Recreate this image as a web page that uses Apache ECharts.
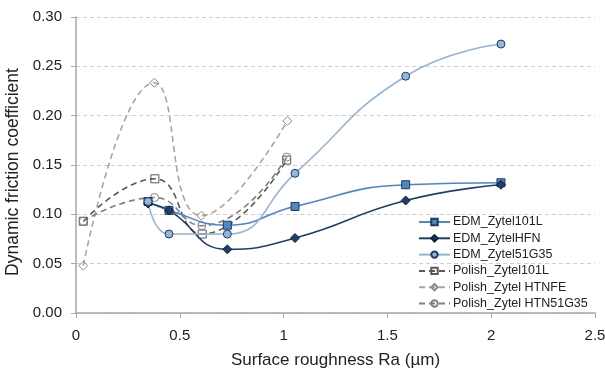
<!DOCTYPE html>
<html><head><meta charset="utf-8">
<script src="https://cdn.jsdelivr.net/npm/echarts@6/dist/echarts.min.js"></script>
<style>html,body{margin:0;padding:0;background:#fff}#c{width:605px;height:369px}</style>
</head><body><div id="c"></div>
<script>
const seriesNames = ['EDM_Zytel101L','EDM_ZytelHFN','EDM_Zytel51G35','Polish_Zytel101L','Polish_Zytel HTNFE','Polish_Zytel HTN51G35'];
const edmX = [0.347, 0.448, 0.729, 1.055, 1.588, 2.047];
const edm101L = [0.113, 0.104, 0.089, 0.108, 0.130, 0.132];
const edmHFN = [0.111, 0.104, 0.0645, 0.076, 0.114, 0.130];
const edm51G35 = [0.113, 0.080, 0.080, 0.1416, 0.240, 0.2726];
const pol101LX = [0.035, 0.380, 0.608, 1.015];
const pol101L = [0.093, 0.136, 0.080, 0.155];
const polHTNFEX = [0.035, 0.377, 0.604, 1.018];
const polHTNFE = [0.048, 0.2334, 0.0986, 0.1946];
const polHTN51X = [0.035, 0.378, 0.606, 1.015];
const polHTN51 = [0.093, 0.117, 0.0885, 0.158];
const xTicks = [0, 0.5, 1, 1.5, 2, 2.5];

const zip = (xs, ys) => xs.map((x, i) => [x, ys[i]]);
const font = 'Liberation Sans';
function mk(name, data, color, symbol, fill, border, dashed, size) {
  return {
    name, type: 'line', data, smooth: 0.5,
    symbol, symbolSize: size,
    lineStyle: {color, width: 1.6, type: dashed ? [6, 4] : 'solid'},
    itemStyle: {color: fill, borderColor: border, borderWidth: 1},
    emphasis: {disabled: true}, z: dashed ? 2 : 3
  };
}
const chart = echarts.init(document.getElementById('c'), null, {renderer: 'canvas'});
chart.setOption({
  animation: false,
  textStyle: {fontFamily: font},
  grid: {left: 76, right: 10, top: 17, bottom: 56, containLabel: false, outerBoundsMode: 'none'},
  xAxis: {
    type: 'value', min: 0, max: 2.5, interval: 0.5,
    name: 'Surface roughness Ra (µm)', nameLocation: 'middle', nameGap: 39,
    nameTextStyle: {fontSize: 17, color: '#222', fontFamily: font},
    axisLine: {lineStyle: {color: '#a6a6a6', width: 1.5}},
    axisTick: {show: true, length: 5, lineStyle: {color: '#a6a6a6'}},
    axisLabel: {fontSize: 15, color: '#222', margin: 15,
      formatter: v => String(xTicks[Math.round(v / 0.5)])},
    splitLine: {show: false}
  },
  yAxis: {
    type: 'value', min: 0, max: 0.3, interval: 0.05,
    name: 'Dynamic friction coefficient', nameLocation: 'middle', nameGap: 52,
    nameTextStyle: {fontSize: 17.5, color: '#222', fontFamily: font, padding: [0, 14, 0, 0]},
    axisLine: {show: true, lineStyle: {color: '#a6a6a6', width: 1.5}},
    axisTick: {show: true, length: 5, lineStyle: {color: '#a6a6a6'}},
    axisLabel: {fontSize: 15, color: '#222', margin: 14, formatter: v => v.toFixed(2)},
    splitLine: {show: true, lineStyle: {color: '#d0d0d0', type: [4, 3]}}
  },
  legend: {
    orient: 'vertical', left: 413, top: 210,
    itemWidth: 31, itemHeight: 8, itemGap: 2.3,
    textStyle: {fontSize: 12.5, lineHeight: 14, color: '#222', fontFamily: font, padding: [0,0,0,-2]},
    data: seriesNames
  },
  series: [
    mk(seriesNames[0], zip(edmX, edm101L), '#4a86cf', 'rect', '#4f86c6', '#1f3a60', false, 8),
    mk(seriesNames[1], zip(edmX, edmHFN), '#1f3e6e', 'diamond', '#1f3e6e', '#10203a', false, 9),
    mk(seriesNames[2], zip(edmX, edm51G35), '#93b3dc', 'circle', '#93b6e0', '#1f3a60', false, 8),
    mk(seriesNames[3], zip(pol101LX, pol101L), '#595959', 'rect', 'rgba(255,255,255,0)', '#595959', true, 8),
    mk(seriesNames[4], zip(polHTNFEX, polHTNFE), '#a6a6a6', 'diamond', 'rgba(255,255,255,0)', '#8c8c8c', true, 9),
    mk(seriesNames[5], zip(polHTN51X, polHTN51), '#808080', 'circle', 'rgba(255,255,255,0)', '#808080', true, 8)
  ]
});
</script></body></html>
